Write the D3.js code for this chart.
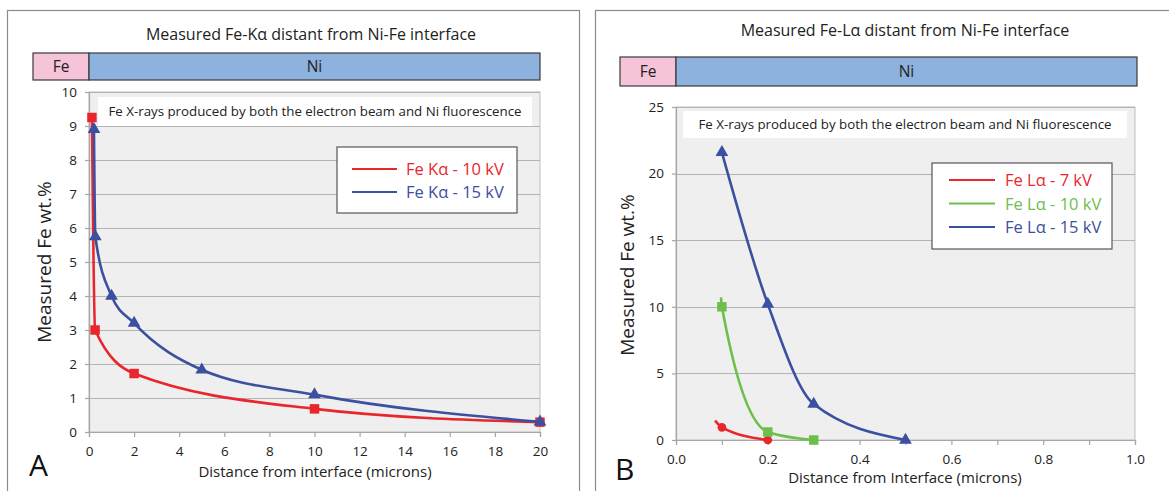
<!doctype html>
<html lang="en">
<head>
	<meta charset="utf-8">
	<title>Measured Fe distant from Ni-Fe interface</title>
	<style>
		body { margin: 0; background: #fff; }
		svg { display: block; font-family: "Open Sans", "Noto Sans", sans-serif; }
	</style>
</head>
<body>
	<svg id="Chart" width="1169" height="491"></svg>

	<script src="https://cdn.jsdelivr.net/npm/d3@7/dist/d3.min.js"></script>
	<script>
		(function () {
			"use strict"

			// panel A: Fe K-alpha
			var kaXTicks = [ 0, 2, 4, 6, 8, 10, 12, 14, 16, 18, 20 ],
				kaYTicks = [ 0, 1, 2, 3, 4, 5, 6, 7, 8, 9, 10 ],
				ka10X = [ 0.13, 0.27, 2, 10, 20 ],
				ka10Y = [ 9.25, 3.0, 1.72, 0.68, 0.29 ],
				ka15X = [ 0.22, 0.28, 1, 2, 5, 10, 20 ],
				ka15Y = [ 8.9, 5.75, 4.0, 3.2, 1.83, 1.1, 0.3 ];

			// panel B: Fe L-alpha (first point of 7 and 10 kV is an unmarked tail)
			var laXTicks = [ 0, 0.1, 0.2, 0.3, 0.4, 0.5, 0.6, 0.7, 0.8, 0.9, 1.0 ],
				laYTicks = [ 0, 5, 10, 15, 20, 25 ],
				la7X = [ 0.085, 0.1, 0.2 ],
				la7Y = [ 1.45, 0.95, 0.0 ],
				la7Mark = [ false, true, true ],
				la10X = [ 0.098, 0.1, 0.2, 0.3 ],
				la10Y = [ 10.7, 10.0, 0.6, 0.0 ],
				la10Mark = [ false, true, true, true ],
				la15X = [ 0.1, 0.2, 0.3, 0.5 ],
				la15Y = [ 21.6, 10.2, 2.7, 0.0 ];

			var RED = "#e8262c", BLUE = "#3b50a0", GREEN = "#6cc04a";

			var svg = d3.select("#Chart");

			function zip(xs, ys, marks) {
				return xs.map(function (x, i) {
					return { x: x, y: ys[i], mark: marks ? marks[i] : true };
				});
			}

			function drawPanel(cfg) {
				var g = svg.append("g");

				// outer frame (runs off the bottom / right of the picture)
				g.append("rect")
					.attr("x", cfg.frame[0] + 0.5).attr("y", cfg.frame[1] + 0.5)
					.attr("width", cfg.frame[2]).attr("height", cfg.frame[3])
					.attr("fill", "#fff").attr("stroke", "#8a8a8a").attr("stroke-width", 1.2);

				g.append("text")
					.attr("x", cfg.titleX).attr("y", cfg.titleY)
					.attr("text-anchor", "middle").attr("font-size", 16).attr("fill", "#222")
					.text(cfg.title);

				// Fe / Ni bar
				var b = cfg.bar;
				g.append("rect").attr("x", b.x0).attr("y", b.y0).attr("width", b.split - b.x0).attr("height", b.y1 - b.y0)
					.attr("fill", "#f5c4d8").attr("stroke", "#3a3a3a").attr("stroke-width", 1.2);
				g.append("rect").attr("x", b.split).attr("y", b.y0).attr("width", b.x1 - b.split).attr("height", b.y1 - b.y0)
					.attr("fill", "#8db2dd").attr("stroke", "#3a3a3a").attr("stroke-width", 1.2);
				g.append("text").attr("x", (b.x0 + b.split) / 2).attr("y", (b.y0 + b.y1) / 2 + 5.5)
					.attr("text-anchor", "middle").attr("font-size", 15.5).attr("fill", "#222").text("Fe");
				g.append("text").attr("x", (b.split + b.x1) / 2).attr("y", (b.y0 + b.y1) / 2 + 5.5)
					.attr("text-anchor", "middle").attr("font-size", 15.5).attr("fill", "#222").text("Ni");

				var p = cfg.plot,
					x = d3.scaleLinear().domain(cfg.xDomain).range([ p.x0, p.x1 ]),
					y = d3.scaleLinear().domain(cfg.yDomain).range([ p.y1, p.y0 ]);

				g.append("rect").attr("x", p.x0).attr("y", p.y0).attr("width", p.x1 - p.x0).attr("height", p.y1 - p.y0)
					.attr("fill", "#efefef").attr("stroke", "#bdbdbd");

				// horizontal gridlines
				g.append("g").selectAll("line").data(cfg.yTicks).join("line")
					.attr("x1", p.x0).attr("x2", p.x1)
					.attr("y1", function (d) { return Math.round(y(d)) + 0.5; })
					.attr("y2", function (d) { return Math.round(y(d)) + 0.5; })
					.attr("stroke", "#b4b4b4").attr("stroke-width", 1.2);

				// axes
				var yAxis = g.append("g")
					.attr("transform", "translate(" + p.x0 + ",0)")
					.call(d3.axisLeft(y).tickValues(cfg.yTicks).tickSize(4).tickPadding(8).tickFormat(d3.format("d")));
				var xAxis = g.append("g")
					.attr("transform", "translate(0," + p.y1 + ")")
					.call(d3.axisBottom(x).tickValues(cfg.xTicks).tickSize(5).tickPadding(9).tickFormat(cfg.xFormat));
				[ yAxis, xAxis ].forEach(function (a) {
					a.select(".domain").attr("stroke", "#a6a6a6").attr("stroke-width", 1.2);
					a.selectAll(".tick line").attr("stroke", "#a6a6a6").attr("stroke-width", 1.2);
					a.selectAll("text").attr("font-size", 13.5).attr("fill", "#222")
						.attr("font-family", "\"Open Sans\", \"Noto Sans\", sans-serif");
				});

				g.append("text")
					.attr("transform", "translate(" + cfg.yTitle[0] + "," + cfg.yTitle[1] + ") rotate(-90)")
					.attr("text-anchor", "middle").attr("font-size", 19).attr("fill", "#222")
					.text("Measured Fe wt.%");
				g.append("text")
					.attr("x", cfg.xTitle[0]).attr("y", cfg.xTitle[1])
					.attr("text-anchor", "middle").attr("font-size", 15).attr("fill", "#222")
					.text(cfg.xLabel);
				g.append("text")
					.attr("x", cfg.letter[0]).attr("y", cfg.letter[1])
					.attr("font-size", 30).attr("fill", "#111")
					.text(cfg.letterText);

				// annotation
				var n = cfg.note;
				g.append("rect").attr("x", n.x0).attr("y", n.y0).attr("width", n.x1 - n.x0).attr("height", n.y1 - n.y0)
					.attr("fill", "#fff");
				g.append("text").attr("x", (n.x0 + n.x1) / 2).attr("y", (n.y0 + n.y1) / 2 + 4.5)
					.attr("text-anchor", "middle").attr("font-size", 13.3).attr("fill", "#222")
					.text("Fe X-rays produced by both the electron beam and Ni fluorescence");

				// series
				var line = d3.line()
					.x(function (d) { return x(d.x); })
					.y(function (d) { return y(d.y); })
					.curve(d3.curveMonotoneX);

				cfg.series.forEach(function (s) {
					g.append("path").datum(s.data)
						.attr("fill", "none").attr("stroke", s.color).attr("stroke-width", 2.6)
						.attr("stroke-linejoin", "round").attr("d", line);

					var pts = s.data.filter(function (d) { return d.mark; });
					g.append("g").selectAll("path").data(pts).join("path")
						.attr("transform", function (d) { return "translate(" + x(d.x) + "," + y(d.y) + ")"; })
						.attr("d", d3.symbol().type(s.symbol).size(s.size))
						.attr("fill", s.color);
				});

				// legend
				var L = cfg.legend;
				g.append("rect").attr("x", L.x0).attr("y", L.y0).attr("width", L.x1 - L.x0).attr("height", L.y1 - L.y0)
					.attr("fill", "#fff").attr("stroke", "#555").attr("stroke-width", 1.2);
				cfg.series.forEach(function (s, i) {
					var ly = L.first + i * L.step;
					g.append("line").attr("x1", L.lx0).attr("x2", L.lx1).attr("y1", ly).attr("y2", ly)
						.attr("stroke", s.color).attr("stroke-width", 2);
					g.append("text").attr("x", L.tx).attr("y", ly + 6)
						.attr("font-size", 16.5).attr("fill", s.color).text(s.name);
				});
			}

			drawPanel({
				frame: [ 7, 10, 572, 520 ],
				title: "Measured Fe-K\u03b1 distant from Ni-Fe interface",
				titleX: 311, titleY: 40,
				bar: { x0: 33, split: 89, x1: 540, y0: 53, y1: 80 },
				plot: { x0: 89, x1: 540, y0: 92, y1: 432 },
				xDomain: [ 0, 20 ], yDomain: [ 0, 10 ],
				xTicks: kaXTicks, yTicks: kaYTicks,
				xFormat: d3.format("d"),
				xLabel: "Distance from interface (microns)",
				xTitle: [ 315, 477 ], yTitle: [ 51, 262 ],
				letter: [ 29, 476 ], letterText: "A",
				note: { x0: 98, x1: 532, y0: 97, y1: 126 },
				legend: { x0: 337, x1: 517, y0: 147, y1: 213, lx0: 352, lx1: 397, tx: 406, first: 169, step: 23 },
				series: [
					{ name: "Fe K\u03b1 - 10 kV", color: RED, symbol: d3.symbolSquare, size: 90, data: zip(ka10X, ka10Y) },
					{ name: "Fe K\u03b1 - 15 kV", color: BLUE, symbol: d3.symbolTriangle, size: 70, data: zip(ka15X, ka15Y) }
				]
			});

			drawPanel({
				frame: [ 595, 10, 620, 520 ],
				title: "Measured Fe-L\u03b1 distant from Ni-Fe interface",
				titleX: 905, titleY: 36,
				bar: { x0: 620, split: 676, x1: 1137, y0: 57, y1: 86 },
				plot: { x0: 676, x1: 1135, y0: 107, y1: 440 },
				xDomain: [ 0, 1 ], yDomain: [ 0, 25 ],
				xTicks: laXTicks, yTicks: laYTicks,
				xFormat: function (d) { return Math.round(d * 10) % 2 === 0 ? d3.format(".1f")(d) : ""; },
				xLabel: "Distance from Interface (microns)",
				xTitle: [ 905, 483 ], yTitle: [ 634, 275 ],
				letter: [ 615, 480 ], letterText: "B",
				note: { x0: 683, x1: 1127, y0: 111, y1: 138 },
				legend: { x0: 932, x1: 1112, y0: 163, y1: 249, lx0: 949, lx1: 995, tx: 1005, first: 180, step: 23.5 },
				series: [
					{ name: "Fe L\u03b1 - 7 kV", color: RED, symbol: d3.symbolCircle, size: 60, data: zip(la7X, la7Y, la7Mark) },
					{ name: "Fe L\u03b1 - 10 kV", color: GREEN, symbol: d3.symbolSquare, size: 90, data: zip(la10X, la10Y, la10Mark) },
					{ name: "Fe L\u03b1 - 15 kV", color: BLUE, symbol: d3.symbolTriangle, size: 70, data: zip(la15X, la15Y) }
				]
			});
		})();
	</script>
</body>
</html>
